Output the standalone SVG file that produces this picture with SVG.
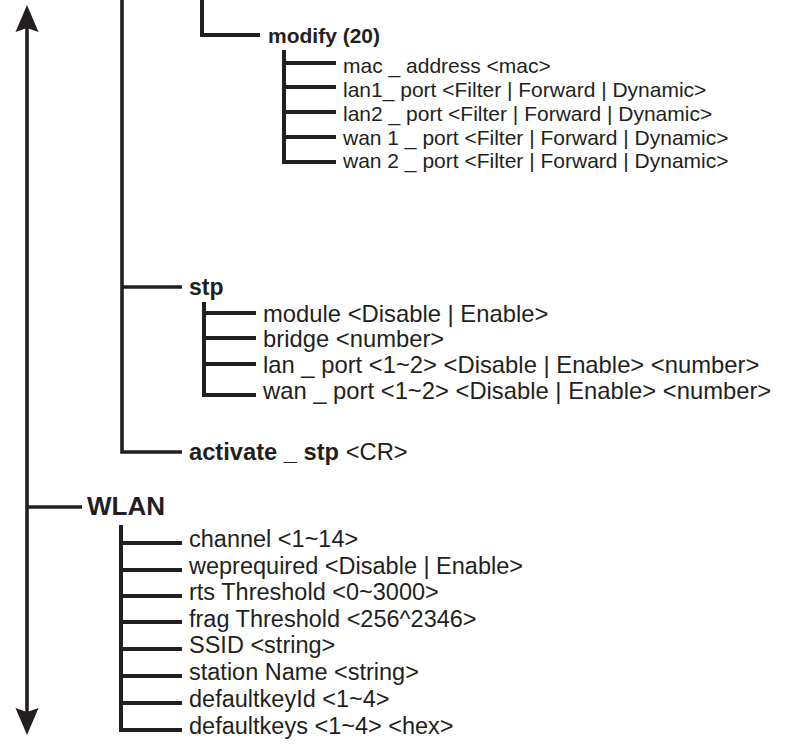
<svg xmlns="http://www.w3.org/2000/svg" width="790" height="745" viewBox="0 0 790 745">
<style>
  .ln { fill: none; stroke: #231f20; stroke-width: 4; stroke-linecap: butt; stroke-linejoin: miter; }
  .main { fill: none; stroke: #231f20; stroke-width: 3.6; }
  text { font-family: "Liberation Sans", Arial, sans-serif; fill: #231f20; }
  .b { font-weight: bold; }
  .m { font-size: 21px; }
  .s { font-size: 23.8px; }
  .w { font-size: 23.5px; }
</style>
<defs>
  <marker id="arr" markerUnits="userSpaceOnUse" markerWidth="28" markerHeight="24" viewBox="0 0 28 24" refX="12" refY="12" orient="auto-start-reverse">
    <path d="M27,12 L0,0.5 L4,12 L0,23.5 Z" fill="#231f20"/>
  </marker>
</defs>
<rect width="790" height="745" fill="#ffffff"/>
<g id="connectors">
  <path class="main" d="M27,20 V720" marker-start="url(#arr)" marker-end="url(#arr)"/>
  <path class="main" d="M27,507 H82"/>
  <path class="main" d="M122,0 V452 H182 M122,287 H182"/>
  <path class="ln" d="M202,0 V35 H260"/>
  <path class="ln" d="M284,50 V162 H336 M284,63 H336 M284,87 H336 M284,112 H336 M284,137 H336"/>
  <path class="ln" d="M204,302 V395 H256 M204,313 H256 M204,338 H256 M204,364 H256"/>
  <path class="ln" d="M121,525 V730 H182 M121,543 H182 M121,570 H182 M121,596 H182 M121,622 H182 M121,649 H182 M121,676 H182 M121,703 H182"/>
</g>
<g id="modify">
  <text class="b m" x="268" y="43" font-size="21.4">modify (20)</text>
</g>
<g id="modify-items">
  <text class="m" x="343" y="73">mac _ address &lt;mac&gt;</text>
  <text class="m" x="343" y="97">lan1_ port &lt;Filter | Forward | Dynamic&gt;</text>
  <text class="m" x="343" y="121">lan2 _ port &lt;Filter | Forward | Dynamic&gt;</text>
  <text class="m" x="343" y="145">wan 1 _ port &lt;Filter | Forward | Dynamic&gt;</text>
  <text class="m" x="343" y="168">wan 2 _ port &lt;Filter | Forward | Dynamic&gt;</text>
</g>
<g id="stp">
  <text class="b" x="189" y="295" font-size="23">stp</text>
</g>
<g id="stp-items">
  <text class="s" x="263" y="322">module &lt;Disable | Enable&gt;</text>
  <text class="s" x="263" y="347">bridge &lt;number&gt;</text>
  <text class="s" x="263" y="373">lan _ port &lt;1~2&gt; &lt;Disable | Enable&gt; &lt;number&gt;</text>
  <text class="s" x="263" y="399">wan _ port &lt;1~2&gt; &lt;Disable | Enable&gt; &lt;number&gt;</text>
</g>
<g id="activate-stp">
  <text x="189" y="460" font-size="23.7"><tspan class="b">activate _ stp</tspan> &lt;CR&gt;</text>
</g>
<g id="wlan">
  <text class="b" x="87" y="515" font-size="26">WLAN</text>
</g>
<g id="wlan-items">
  <text class="w" x="189" y="547">channel &lt;1~14&gt;</text>
  <text class="w" x="189" y="574">weprequired &lt;Disable | Enable&gt;</text>
  <text class="w" x="189" y="600">rts Threshold &lt;0~3000&gt;</text>
  <text class="w" x="189" y="627">frag Threshold &lt;256^2346&gt;</text>
  <text class="w" x="189" y="653">SSID &lt;string&gt;</text>
  <text class="w" x="189" y="680">station Name &lt;string&gt;</text>
  <text class="w" x="189" y="707">defaultkeyId &lt;1~4&gt;</text>
  <text class="w" x="189" y="734">defaultkeys &lt;1~4&gt; &lt;hex&gt;</text>
</g>
</svg>
